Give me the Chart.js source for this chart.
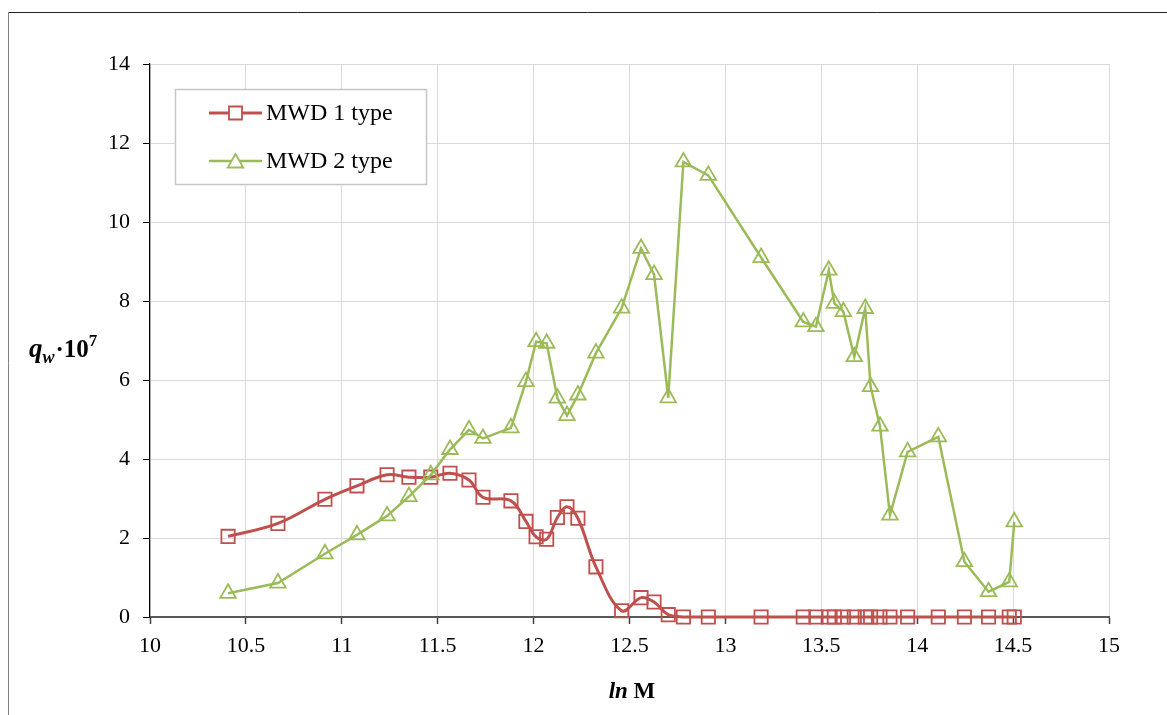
<!DOCTYPE html>
<html>
<head>
<meta charset="utf-8">
<script src="https://cdn.jsdelivr.net/npm/chart.js@4/dist/chart.umd.min.js"></script>
<style>
  html, body { margin: 0; padding: 0; background: #fff; }
  #wrap { width: 1167px; height: 715px; position: relative; }
</style>
</head>
<body>
<div id="wrap"><canvas id="c" width="1167" height="715"></canvas></div>
<script>
// ln M values shared by both distributions
const lnM = [10.407, 10.667, 10.912, 11.079, 11.236, 11.350, 11.464, 11.564, 11.663, 11.736,
             11.882, 11.960, 12.013, 12.068, 12.124, 12.174, 12.231, 12.325, 12.459, 12.560,
             12.628, 12.702, 12.781, 12.911, 13.186, 13.406, 13.472, 13.539, 13.568, 13.615,
             13.672, 13.729, 13.757, 13.806, 13.858, 13.950, 14.110, 14.246, 14.372, 14.480, 14.506];

// q_w * 10^7, MWD 1 type
const mwd1 = [2.04, 2.37, 2.98, 3.32, 3.60, 3.54, 3.54, 3.64, 3.47, 3.03,
              2.94, 2.42, 2.03, 1.97, 2.52, 2.79, 2.50, 1.27, 0.16, 0.49,
              0.38, 0.06, 0, 0, 0, 0, 0, 0, 0, 0,
              0, 0, 0, 0, 0, 0, 0, 0, 0, 0, 0];

// q_w * 10^7, MWD 2 type
const mwd2 = [0.60, 0.86, 1.60, 2.08, 2.56, 3.05, 3.60, 4.24, 4.74, 4.52,
              4.79, 5.96, 6.97, 6.93, 5.54, 5.10, 5.62, 6.68, 7.82, 9.33,
              8.67, 5.55, 11.52, 11.18, 9.10, 7.47, 7.35, 8.78, 7.94, 7.73,
              6.59, 7.81, 5.83, 4.83, 2.58, 4.18, 4.56, 1.40, 0.64, 0.89, 2.41];

const seriesNames = ['MWD 1 type', 'MWD 2 type'];
const xTicks = [10, 10.5, 11, 11.5, 12, 12.5, 13, 13.5, 14, 14.5, 15];
const yTicks = [0, 2, 4, 6, 8, 10, 12, 14];

const RED = '#C0504D';
const GREEN = '#9BBB59';
const SERIF = '"Liberation Serif", "Times New Roman", serif';

const toPoints = ys => lnM.map((x, i) => ({ x: x, y: ys[i] }));

function drawSquare(ctx, x, y, side, color, lw) {
  ctx.save();
  ctx.strokeStyle = color; ctx.lineWidth = lw; ctx.fillStyle = '#fff';
  ctx.beginPath(); ctx.rect(x - side / 2, y - side / 2, side, side);
  ctx.fill(); ctx.stroke();
  ctx.restore();
}
function drawTriangle(ctx, x, y, r, color, lw) {
  ctx.save();
  ctx.strokeStyle = color; ctx.lineWidth = lw; ctx.fillStyle = '#fff';
  ctx.beginPath();
  ctx.moveTo(x, y - r);
  ctx.lineTo(x + r * 0.866, y + r * 0.5);
  ctx.lineTo(x - r * 0.866, y + r * 0.5);
  ctx.closePath();
  ctx.fill(); ctx.stroke();
  ctx.restore();
}

// frame, axis titles and the boxed legend
const decorations = {
  id: 'decorations',
  afterDraw(chart) {
    const ctx = chart.ctx;
    ctx.save();
    // outer frame
    ctx.lineWidth = 1;
    ctx.strokeStyle = '#222';
    ctx.beginPath(); ctx.moveTo(8, 12.5); ctx.lineTo(1167, 12.5); ctx.stroke();
    ctx.strokeStyle = '#808080';
    ctx.beginPath(); ctx.moveTo(8.5, 12); ctx.lineTo(8.5, 715); ctx.stroke();

    // y axis title: q_w·10^7
    ctx.fillStyle = '#000';
    ctx.textBaseline = 'alphabetic';
    ctx.textAlign = 'left';
    let x = 29, base = 357;
    ctx.font = 'italic bold 27px ' + SERIF;
    ctx.fillText('q', x, base); x += ctx.measureText('q').width;
    ctx.font = 'italic bold 18px ' + SERIF;
    ctx.fillText('w', x, base + 6); x += ctx.measureText('w').width + 1;
    ctx.font = 'bold 25px ' + SERIF;
    ctx.fillText('·', x, base); x += ctx.measureText('·').width;
    ctx.fillText('10', x, base); x += ctx.measureText('10').width;
    ctx.font = 'bold 17px ' + SERIF;
    ctx.fillText('7', x, base - 11);

    // x axis title: ln M
    base = 698;
    ctx.font = 'italic bold 23px ' + SERIF;
    const w1 = ctx.measureText('ln ').width;
    ctx.font = 'bold 23px ' + SERIF;
    const w2 = ctx.measureText('M').width;
    x = 632 - (w1 + w2) / 2;
    ctx.font = 'italic bold 23px ' + SERIF;
    ctx.fillText('ln ', x, base);
    ctx.font = 'bold 23px ' + SERIF;
    ctx.fillText('M', x + w1, base);

    // legend
    ctx.fillStyle = '#fff';
    ctx.fillRect(175.5, 89.5, 251, 95);
    ctx.strokeStyle = '#c6c6c6';
    ctx.lineWidth = 1.5;
    ctx.strokeRect(175.5, 89.5, 251, 95);
    const rows = [
      { y: 113, color: RED, lw: 3, mark: 'square' },
      { y: 161, color: GREEN, lw: 2.5, mark: 'triangle' }
    ];
    rows.forEach((r, i) => {
      ctx.strokeStyle = r.color; ctx.lineWidth = r.lw;
      ctx.beginPath(); ctx.moveTo(209, r.y); ctx.lineTo(262, r.y); ctx.stroke();
      if (r.mark === 'square') drawSquare(ctx, 235.5, r.y, 13, r.color, 1.8);
      else drawTriangle(ctx, 235.5, r.y + 2, 9, r.color, 1.8);
      ctx.fillStyle = '#000';
      ctx.font = '24px ' + SERIF;
      ctx.textBaseline = 'middle';
      ctx.fillText(seriesNames[i], 266, r.y + 1);
    });
    ctx.restore();
  }
};

new Chart(document.getElementById('c'), {
  type: 'line',
  data: {
    datasets: [
      {
        label: seriesNames[0],
        data: toPoints(mwd1),
        borderColor: RED,
        borderWidth: 3,
        tension: 0.38,
        pointStyle: 'rect',
        pointRadius: 9.4,
        pointBorderWidth: 1.8,
        pointBorderColor: RED,
        pointBackgroundColor: 'rgba(255,255,255,0)',
        clip: false,
        order: 1
      },
      {
        label: seriesNames[1],
        data: toPoints(mwd2),
        borderColor: GREEN,
        borderWidth: 2.5,
        tension: 0,
        pointStyle: 'triangle',
        pointRadius: 9,
        pointBorderWidth: 1.8,
        pointBorderColor: GREEN,
        pointBackgroundColor: 'rgba(255,255,255,0)',
        clip: false,
        order: 0
      }
    ]
  },
  options: {
    responsive: false,
    animation: false,
    devicePixelRatio: 1,
    layout: { padding: { left: 0, top: 64, right: 58, bottom: 0 } },
    plugins: { legend: { display: false }, tooltip: { enabled: false } },
    scales: {
      x: {
        type: 'linear',
        min: 10, max: 15,
        afterBuildTicks: axis => { axis.ticks = xTicks.map(v => ({ value: v })); },
        afterFit: axis => { axis.height = 98; },
        grid: { color: '#d9d9d9', lineWidth: 1, tickLength: 7, tickColor: '#404040', tickWidth: 1.5 },
        border: { color: '#595959', width: 2 },
        ticks: { color: '#000', font: { family: SERIF, size: 22 }, padding: 9, maxRotation: 0,
                 callback: v => String(v) }
      },
      y: {
        type: 'linear',
        min: 0, max: 14,
        afterBuildTicks: axis => { axis.ticks = yTicks.map(v => ({ value: v })); },
        afterFit: axis => { axis.width = 150; },
        grid: { color: '#d9d9d9', lineWidth: 1, tickLength: 7, tickColor: '#000', tickWidth: 1 },
        border: { color: '#000', width: 1.2 },
        ticks: { color: '#000', font: { family: SERIF, size: 22 }, padding: 13,
                 callback: v => String(v) }
      }
    }
  },
  plugins: [decorations]
});
</script>
</body>
</html>
